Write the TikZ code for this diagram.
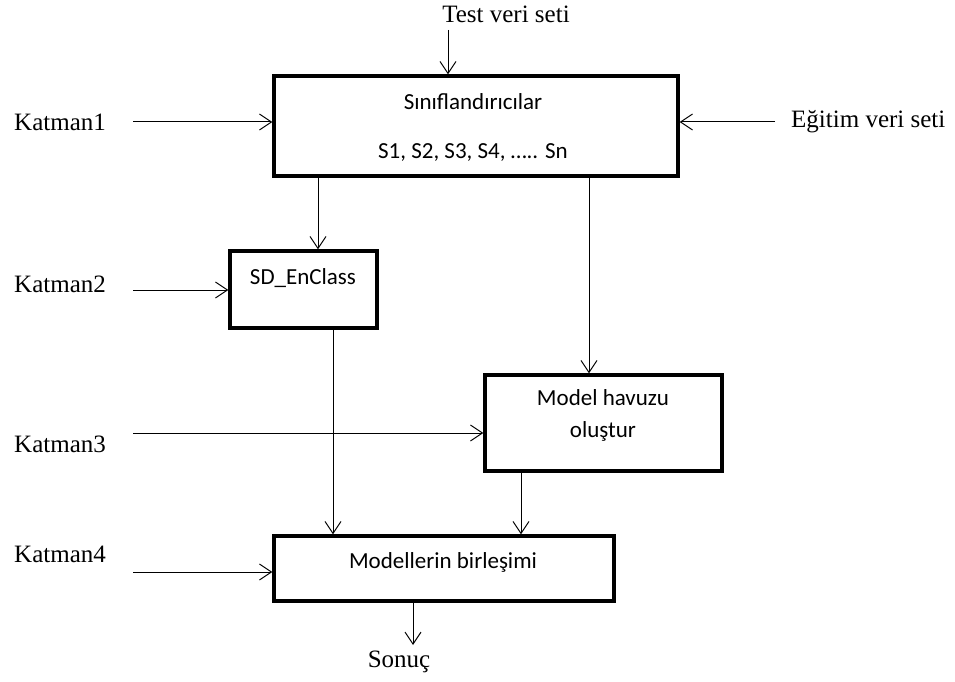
\documentclass[tikz,border=0pt]{standalone}
\usepackage{fontspec}
\setmainfont{Liberation Serif}
\newfontfamily\boxfont{Carlito}
\usetikzlibrary{arrows.meta}
\tikzset{
  box/.style={draw, line width=3.3pt, inner sep=0pt},
  boxtext/.style={font=\boxfont\fontsize{23}{28}\selectfont, align=center, inner sep=0pt},
  layer/.style={font=\fontsize{25}{29}\selectfont, inner sep=0pt},
  arr/.style={-{Straight Barb[length=12pt,width=16pt,line width=1pt]}, line width=1pt}
}

\begin{document}
\begin{tikzpicture}[x=1pt, y=-1pt]
  \useasboundingbox (0,0) rectangle (955,682);
  % boxes
  \node[box, minimum width=404pt, minimum height=100pt] (clsf) at (476,126) {};
  \node[box, minimum width=147pt, minimum height=77pt] (sd) at (303.5,289.5) {};
  \node[box, minimum width=237pt, minimum height=96pt] (pool) at (603.5,423) {};
  \node[box, minimum width=340pt, minimum height=65pt] (merge) at (444,568.5) {};
  % texts in the boxes
  \node[boxtext] (clsf-top) at (473,102) {Sınıflandırıcılar};
  \node[boxtext] (clsf-bot) at (473,153) {S1, S2, S3, S4, ….. Sn};
  \node[boxtext] (sd-txt) at (303,278) {SD\_EnClass};
  \node[boxtext] (pool-txt) at (603,415) {Model havuzu\\[4pt]oluştur};
  \node[boxtext] (merge-txt) at (443,562) {Modellerin birleşimi};
  % outside labels
  \node[layer, anchor=west] (k1) at (14,122) {Katman1};
  \node[layer, anchor=west] (k2) at (14,284) {Katman2};
  \node[layer, anchor=west] (k3) at (14,444) {Katman3};
  \node[layer, anchor=west] (k4) at (14,554) {Katman4};
  \node[layer] (test) at (506,14) {Test veri seti};
  \node[layer, anchor=west] (egitim) at (791,122) {Eğitim veri seti};
  \node[layer] (sonuc) at (399,662) {Sonuç};
  % free ends of the arrows
  \coordinate (k1s) at (133,122);
  \coordinate (k2s) at (133,290);
  \coordinate (k3s) at (133,433);
  \coordinate (k4s) at (133,572);
  \coordinate (tests) at (448,30);
  \coordinate (egs) at (775,122);
  \coordinate (sonucs) at (413,645);
  % arrows
  \draw[arr] (k1s) -- (k1s -| clsf.west);
  \draw[arr] (k2s) -- (k2s -| sd.west);
  \draw[arr] (k3s) -- (k3s -| pool.west);
  \draw[arr] (k4s) -- (k4s -| merge.west);
  \draw[arr] (tests) -- (tests |- clsf.north);
  \draw[arr] (egs) -- (egs -| clsf.east);
  \draw[arr] ([xshift=-158pt]clsf.south) -- ([xshift=14.5pt]sd.north);
  \draw[arr] ([xshift=113pt]clsf.south) -- ([xshift=-14.5pt]pool.north);
  \draw[arr] ([xshift=29.5pt]sd.south) -- ([xshift=-111pt]merge.north);
  \draw[arr] ([xshift=-82.5pt]pool.south) -- ([xshift=77pt]merge.north);
  \draw[arr] ([xshift=-31pt]merge.south) -- (sonucs);
\end{tikzpicture}
\end{document}
